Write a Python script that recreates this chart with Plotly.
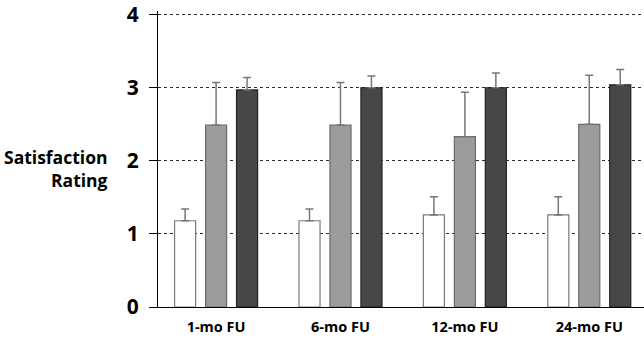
import plotly.graph_objects as go

categories = ["1-mo FU", "6-mo FU", "12-mo FU", "24-mo FU"]
white_vals = [1.18, 1.18, 1.26, 1.26]
white_err = [0.16, 0.16, 0.25, 0.25]
gray_vals = [2.49, 2.49, 2.33, 2.50]
gray_err = [0.58, 0.58, 0.61, 0.67]
dark_vals = [2.97, 3.00, 3.00, 3.04]
dark_err = [0.17, 0.16, 0.20, 0.21]
y_ticks = [0, 1, 2, 3, 4]

series = [
    (white_vals, white_err, "#ffffff", "#7a7a7a"),
    (gray_vals, gray_err, "#9c9c9c", "#6a6a6a"),
    (dark_vals, dark_err, "#474747", "#222222"),
]

fig = go.Figure()
for vals, errs, fill, line in series:
    fig.add_trace(go.Bar(
        x=categories, y=vals,
        marker=dict(color=fill, line=dict(color=line, width=1.2)),
        error_y=dict(type="data", array=errs, arrayminus=[0] * len(errs),
                     symmetric=False, color="#777777", thickness=1.5, width=4),
        showlegend=False,
    ))

fig.update_layout(
    width=644, height=341,
    margin=dict(l=158, r=0, t=11, b=34),
    paper_bgcolor="white", plot_bgcolor="white",
    barmode="group", bargap=0.253, bargroupgap=0.32,
    font=dict(family="Open Sans", color="black"),
)
fig.update_xaxes(
    range=[-0.467, 3.44], automargin=False,
    showline=True, linecolor="black", linewidth=1.2,
    showgrid=False, ticks="",
    tickfont=dict(size=14.5, weight="bold", family="Open Sans"),
    ticklabelstandoff=6,
)
fig.update_yaxes(
    range=[0, 4.05], automargin=False,
    tickvals=y_ticks,
    showline=True, linecolor="black", linewidth=1.2,
    ticks="outside", ticklen=8, tickcolor="black", tickwidth=1.2,
    showgrid=True, gridcolor="#2a2a2a", griddash="dot", gridwidth=1.3,
    zeroline=False,
    tickfont=dict(size=21, weight="bold", family="Open Sans"),
    ticklabelstandoff=6,
)
fig.add_annotation(
    text="Satisfaction<br>Rating", xref="paper", yref="paper",
    x=(110 - 158) / 486, y=(307 - 168) / 296,
    xanchor="right", yanchor="middle", align="right",
    showarrow=False,
    font=dict(size=17.5, weight="bold", family="Open Sans", color="black"),
)
fig.write_html("out.html", config={"displayModeBar": False},
               post_script="document.body.style.margin='0';")
